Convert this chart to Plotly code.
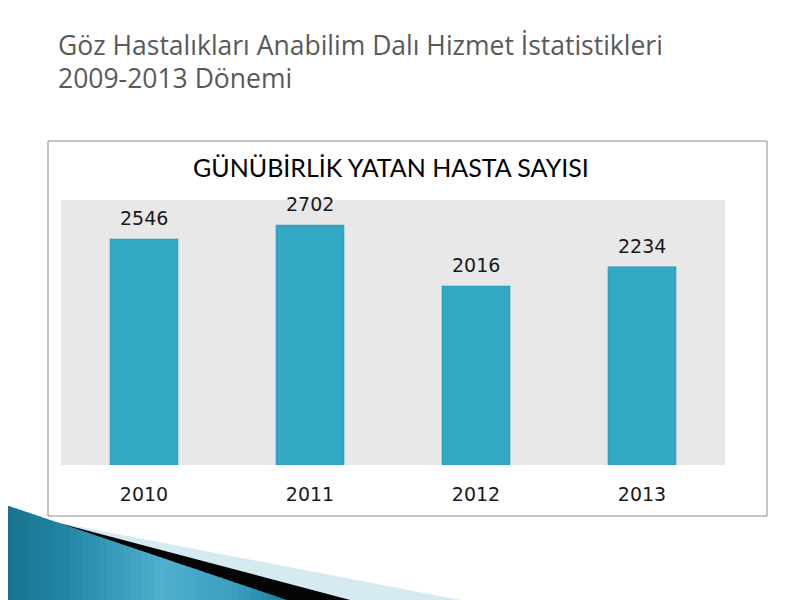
import plotly.graph_objects as go

years = ["2010", "2011", "2012", "2013"]
patients = [2546, 2702, 2016, 2234]

slide_title_1 = "Göz Hastalıkları Anabilim Dalı Hizmet İstatistikleri"
slide_title_2 = "2009-2013 Dönemi"
chart_title = "GÜNÜBİRLİK YATAN HASTA SAYISI"

# plot area geometry in page pixels (page has an 8px body margin)
OFF = 8
L, R, T, B = 61, 725, 200, 465
W, H = R - L, B - T
FIG_W, FIG_H = 800 - OFF, 600 - OFF


def px(x):
    return (x - L) / W


def py(y):
    return (B - y) / H


fig = go.Figure()
fig.add_trace(go.Bar(
    x=years, y=patients,
    marker=dict(color="#32A8C4", line=dict(color="#2B93AD", width=0.5)),
    width=0.41,
    hoverinfo="x+y",
))

shapes = []
# chart box
shapes.append(dict(type="rect", xref="paper", yref="paper",
                   x0=px(48), x1=px(767), y0=py(516), y1=py(141),
                   line=dict(color="#8C8C8C", width=1), fillcolor="rgba(0,0,0,0)",
                   layer="below"))


def poly(points, color):
    d = "M " + " L ".join(f"{px(x):.5f},{py(y):.5f}" for x, y in points) + " Z"
    return dict(type="path", xref="paper", yref="paper", path=d,
                fillcolor=color, line=dict(width=0), layer="above")


# decorative swoosh at bottom-left
shapes.append(poly([(55, 522), (466, 601), (350, 601)], "#D6EAF1"))
shapes.append(poly([(55, 522), (354, 601), (285, 601)], "#050505"))

keys = [(0, (22, 112, 140)), (70, (34, 135, 165)), (160, (80, 176, 206)),
        (230, (60, 160, 193)), (288, (28, 128, 160))]


def col_at(x):
    for (xa, ca), (xb, cb) in zip(keys[:-1], keys[1:]):
        if xa <= x <= xb:
            t = (x - xa) / (xb - xa)
            c = [round(a + (b - a) * t) for a, b in zip(ca, cb)]
            return f"rgb({c[0]},{c[1]},{c[2]})"
    c = keys[-1][1]
    return f"rgb({c[0]},{c[1]},{c[2]})"


def top(x):
    return 503 + (600 - 503) * x / 287


step = 6
xs = list(range(-2, 288, step)) + [288]
for xa, xb in zip(xs[:-1], xs[1:]):
    xb2 = min(xb + 1, 288)
    shapes.append(poly([(xa, top(xa)), (xb2, top(xb2)), (xb2, 601), (xa, 601)],
                       col_at((xa + xb) / 2)))

annotations = [
    dict(text=slide_title_1, x=px(56), y=py(45), xref="paper", yref="paper",
         xanchor="left", yanchor="middle", showarrow=False,
         font=dict(family="Open Sans", size=26.5, color="#595959")),
    dict(text=slide_title_2, x=px(56), y=py(78), xref="paper", yref="paper",
         xanchor="left", yanchor="middle", showarrow=False,
         font=dict(family="Open Sans", size=26.5, color="#595959")),
    dict(text=chart_title, x=px(391), y=py(167), xref="paper", yref="paper",
         xanchor="center", yanchor="middle", showarrow=False,
         font=dict(family="Lato", size=25, color="#000000")),
]
for i, v in enumerate(patients):
    annotations.append(dict(text=str(v), x=i, y=v, xref="x", yref="y",
                            xanchor="center", yanchor="bottom", yshift=8,
                            showarrow=False,
                            font=dict(family="DejaVu Sans", size=19, color="#1A1A1A")))

fig.update_layout(
    width=FIG_W, height=FIG_H,
    margin=dict(l=L - OFF, r=FIG_W - (R - OFF), t=T - OFF, b=FIG_H - (B - OFF)),
    paper_bgcolor="white",
    plot_bgcolor="#E8E8E8",
    showlegend=False,
    shapes=shapes,
    annotations=annotations,
    xaxis=dict(type="category", range=[-0.5, len(years) - 0.5], autorange=False,
               showgrid=False, zeroline=False, showline=False,
               ticks="", tickfont=dict(family="DejaVu Sans", size=19, color="#1A1A1A"),
               ticklabelstandoff=16),
    yaxis=dict(range=[0, 2985], autorange=False, visible=False,
               showgrid=False, zeroline=False),
)

fig.write_html("out.html")
